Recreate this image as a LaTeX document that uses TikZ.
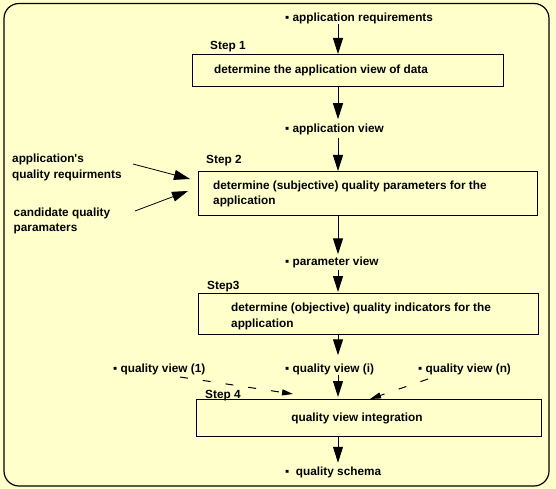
\documentclass[tikz,border=0pt]{standalone}
\usepackage{fontspec}
\setmainfont{Liberation Sans}
\usetikzlibrary{arrows.meta,calc}
\definecolor{bgyellow}{HTML}{FFFFCC}
\begin{document}
\begin{tikzpicture}[x=1pt,y=-1pt,
  txt/.style={inner sep=0pt,font=\fontsize{11.8}{15.5}\selectfont\bfseries},
  lbl/.style={txt,anchor=base west},
  stepbox/.style={draw,line width=1pt,anchor=north west,inner sep=0pt},
  arr/.style={line width=1pt,-{Triangle[length=16pt,width=10pt]}},
  darr/.style={line width=1pt,dash pattern=on 8pt off 15pt,-{Triangle[length=11pt,width=6pt]}},
]
\fill[bgyellow] (0,0) rectangle (556,489);
\useasboundingbox (0,0) rectangle (556,489);
\draw[line width=1.2pt,rounded corners=15pt] (4,3.5) rectangle (549,486);

\coordinate (ax) at (338,0);

% boxes
\node[stepbox,minimum width=311pt,minimum height=32pt] (b1) at (192,54) {};
\node[stepbox,minimum width=339pt,minimum height=44pt] (b2) at (198,171) {};
\node[stepbox,minimum width=340pt,minimum height=41pt] (b3) at (198,293) {};
\node[stepbox,minimum width=345pt,minimum height=37pt] (b4) at (196,399) {};

% box texts
\node[lbl] (t1) at (214,74) {determine the application view of data};
\node[lbl] (t2a) at (213,189) {determine (subjective) quality parameters for the};
\node[lbl] (t2b) at (213,204.5) {application};
\node[lbl] (t3a) at (231,311) {determine (objective) quality indicators for the};
\node[lbl] (t3b) at (231,327) {application};
\node[txt] (t4) at (357,418) {quality view integration};

% step labels
\node[lbl] (s1) at (210,50) {Step 1};
\node[lbl] (s2) at (206,163.5) {Step 2};
\node[lbl] (s3) at (207,289) {Step3};
\node[lbl] (s4) at (205,398) {Step 4};

% flow labels
\node[lbl] (ar) at (285,21.5) {▪ application requirements};
\node[lbl] (av) at (285,133) {▪ application view};
\node[lbl] (pv) at (285,265) {▪ parameter view};
\node[lbl] (qv1) at (113,372) {▪ quality view (1)};
\node[lbl] (qvi) at (285,372) {▪ quality view (i)};
\node[lbl] (qvn) at (418,372) {▪ quality view (n)};
\node[lbl] (qs) at (285,475) {▪~ quality schema};

% left inputs
\node[lbl] (qr1) at (12,162) {application\textquotesingle s};
\node[lbl] (qr2) at (12,178.5) {quality requirments};
\node[lbl] (cq1) at (13.5,216) {candidate quality};
\node[lbl] (cq2) at (13.5,231.5) {paramaters};

\coordinate (qrs) at (133,164);
\coordinate (cqs) at (135,211);
\coordinate (qv1s) at (180,377);
\coordinate (qvns) at (428,379);

% main flow
\draw[arr] (ar.south -| ax) -- (b1.north -| ax);
\draw[arr,shorten >=5pt] (b1.south -| ax) -- (av.north -| ax);
\draw[arr,shorten <=2pt] (av.south -| ax) -- (b2.north -| ax);
\draw[arr,shorten >=2pt] (b2.south -| ax) -- (pv.north -| ax);
\draw[arr,shorten <=2pt,shorten >=1pt] (pv.south -| ax) -- (b3.north -| ax);
\draw[arr,shorten >=8pt] (b3.south -| ax) -- (qvi.north -| ax);
\draw[arr,shorten >=2pt] (qvi.south -| ax) -- (b4.north -| ax);
\draw[arr,shorten >=3.5pt] (b4.south -| ax) -- (qs.north -| ax);

% side inputs
\draw[arr,line width=0.8pt] (qrs) -- ($(b2.north west)+(-8,8)$);
\draw[arr,line width=0.8pt] (cqs) -- ($(b2.north west)+(-10,20)$);
\draw[darr] (qv1s) -- ($(b4.north west)+(97,-5)$);
\draw[darr] (qvns) -- ($(b4.north west)+(174,0)$);
\end{tikzpicture}
\end{document}
